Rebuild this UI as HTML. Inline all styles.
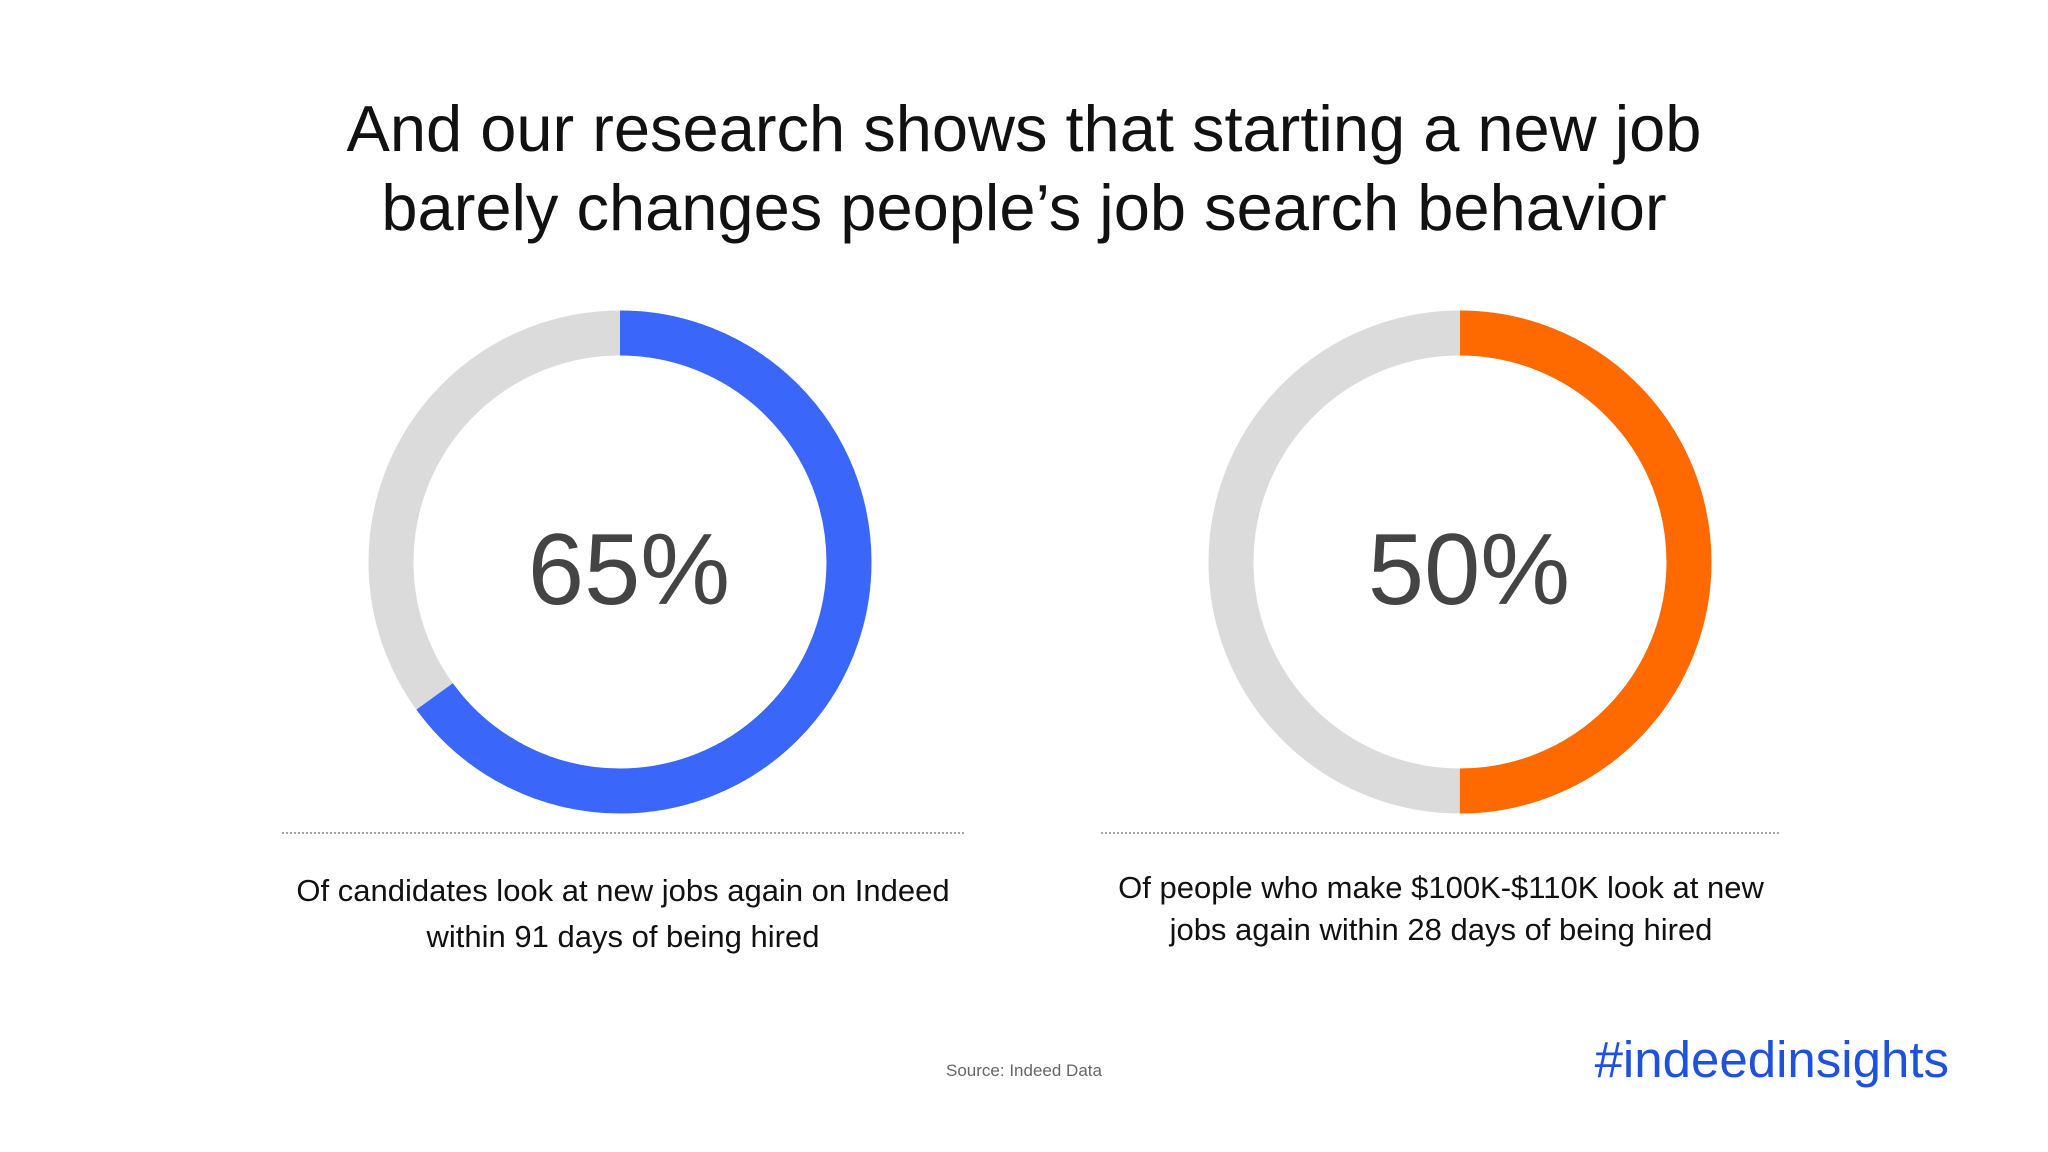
<!DOCTYPE html>
<html>
<head>
<meta charset="utf-8">
<style>
  html,body{margin:0;padding:0;background:#fff;}
  body{width:2048px;height:1152px;overflow:hidden;position:relative;font-family:"Liberation Sans",Arial,sans-serif;}
  .title{position:absolute;left:0;width:2048px;top:89px;text-align:center;font-size:65px;line-height:79px;color:#111;}
  .cap{position:absolute;text-align:center;font-size:31px;color:#111;}
  .src{position:absolute;left:0;width:2048px;top:1061px;text-align:center;font-size:17px;color:#666;}
  .tag{position:absolute;right:99px;top:1030px;font-size:51px;color:#1f52dc;}
  svg{position:absolute;left:0;top:0;}
</style>
</head>
<body>
<div class="title">And our research shows that starting a new job<br>barely changes people’s job search behavior</div>
<svg id="chart" width="2048" height="1152"></svg>
<div class="cap" style="left:282px;width:682px;top:868px;line-height:46px;">Of candidates look at new jobs again on Indeed<br>within 91 days of being hired</div>
<div class="cap" style="left:1101px;width:680px;top:867px;line-height:42px;">Of people who make $100K-$110K look at new<br>jobs again within 28 days of being hired</div>
<div class="src">Source: Indeed Data</div>
<div class="tag">#indeedinsights</div>
<script>
const labels = ["65%", "50%"];
const values = [65, 50];
const colors = ["#3a66fa", "#ff6a00"];
const centersX = [620, 1460];
const cy = 562, r = 229, sw = 45;
const svg = document.getElementById('chart');
const NS = 'http://www.w3.org/2000/svg';
const C = 2 * Math.PI * r;
values.forEach((v, i) => {
  const cx = centersX[i];
  const bg = document.createElementNS(NS, 'circle');
  
  
  bg.setAttribute('cx', cx); bg.setAttribute('cy', cy); bg.setAttribute('r', r);
  bg.setAttribute('fill', 'none'); bg.setAttribute('stroke', '#dcdbdc'); bg.setAttribute('stroke-width', sw);
  svg.appendChild(bg);
  const arc = document.createElementNS(NS, 'circle');
  
  
  arc.setAttribute('cx', cx); arc.setAttribute('cy', cy); arc.setAttribute('r', r);
  arc.setAttribute('fill', 'none'); arc.setAttribute('stroke', colors[i]); arc.setAttribute('stroke-width', sw);
  arc.setAttribute('stroke-dasharray', (C * v / 100) + ' ' + C);
  arc.setAttribute('transform', 'rotate(-90 ' + cx + ' ' + cy + ')');
  svg.appendChild(arc);
  const t = document.createElementNS(NS, 'text');
  
  
  t.setAttribute('x', cx + 9); t.setAttribute('y', cy + 42);
  t.setAttribute('text-anchor', 'middle'); t.setAttribute('font-size', '101');
  t.setAttribute('font-family', '"Liberation Sans", Arial, sans-serif'); t.setAttribute('fill', '#444');
  t.textContent = labels[i];
  svg.appendChild(t);
  const ln = document.createElementNS(NS, 'line');
  
  
  const x0 = i === 0 ? 282 : 1101, x1 = i === 0 ? 964 : 1781;
  ln.setAttribute('x1', x0); ln.setAttribute('x2', x1); ln.setAttribute('y1', 833); ln.setAttribute('y2', 833);
  ln.setAttribute('stroke', '#888'); ln.setAttribute('stroke-width', 1.5); ln.setAttribute('stroke-dasharray', '2 2');
  svg.appendChild(ln);
});
</script>
</body>
</html>
